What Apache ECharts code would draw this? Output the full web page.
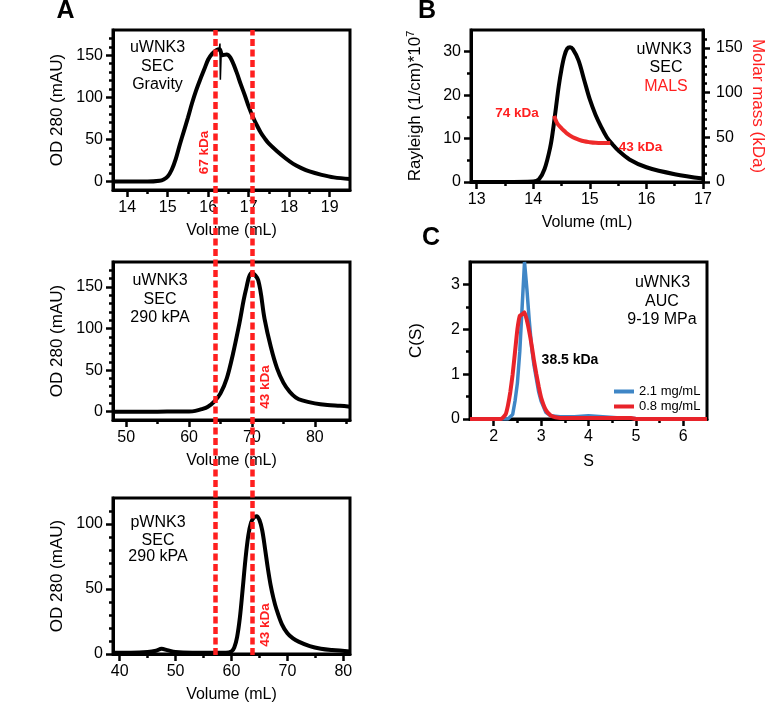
<!DOCTYPE html>
<html>
<head>
<meta charset="UTF-8">
<title>WNK3 SEC / MALS / AUC</title>
<script src="https://cdn.jsdelivr.net/npm/echarts@6.0.0/dist/echarts.min.js"></script>
<style>
  html, body { margin: 0; padding: 0; background: #fff; }
  #chart { width: 775px; height: 708px; }
</style>
</head>
<body>
<div id="chart"></div>
<script>
var FONT = '"Liberation Sans", Arial, Helvetica, sans-serif';
var RED = '#ff1f1f';

// A, top: uWNK3 SEC gravity
var a1Vol = [13.65, 14.0, 14.5, 14.8, 14.9, 15.0, 15.1, 15.2, 15.3, 15.4, 15.5, 15.6, 15.7, 15.8, 15.9, 16.0, 16.1, 16.2, 16.28, 16.35, 16.45, 16.55, 16.7, 16.8, 16.9, 17.0, 17.1, 17.2, 17.3, 17.4, 17.5, 17.7, 17.9, 18.1, 18.3, 18.5, 18.8, 19.1, 19.5];
var a1Od  = [0, 0, 0, 1, 2.5, 6, 14, 27, 44, 60, 76, 93, 108, 121, 133, 145, 152, 156, 157, 150, 151, 147, 130, 116, 103, 89, 77, 67, 58, 51, 45, 36, 28, 21, 16, 12, 8, 5, 3];
var a1SpikeVol = [16.27, 16.29, 16.3, 16.32];
var a1SpikeOd  = [156, 164, 121, 151];
var a1XTicks = [14, 15, 16, 17, 18, 19];
var aYTicks  = [0, 50, 100, 150];

// A, middle: uWNK3 SEC 290 kPa
var a2Vol = [47.9, 50, 55, 58, 60, 61, 62, 63, 64, 65, 66, 67, 68, 69, 70, 71, 72, 73, 74, 75, 76, 77, 78, 80, 82, 84, 85.6];
var a2Od  = [0, 0, 0, 0.2, 0.3, 1, 3, 6, 12, 22, 40, 70, 106, 145, 167, 158, 112, 78, 52, 35, 24, 17, 13.5, 10, 8, 7, 6];
var a2XTicks = [50, 60, 70, 80];

// A, bottom: pWNK3 SEC 290 kPa
var a3Vol = [38.8, 42, 45, 46.5, 47.5, 48.5, 50, 53, 56, 59, 60, 60.5, 61, 61.5, 62, 62.5, 63, 63.5, 64, 64.5, 65, 65.5, 66, 66.5, 67, 67.5, 68, 69, 70, 71, 72, 74, 76, 78, 81.2];
var a3Od  = [1, 1, 1.5, 2.5, 4, 3, 1.5, 1, 1, 1, 2, 5, 13, 28, 50, 73, 91, 101, 105, 106, 103, 95, 81, 66, 53, 43, 35, 23, 16, 12, 9.5, 6, 4, 3, 2];
var a3XTicks = [40, 50, 60, 70, 80];
var a3YTicks = [0, 50, 100];

// marker volumes (read on the top panel's axis, lines run through all three)
var markerVol = [16.17, 17.09];

// B: SEC-MALS
var bVol = [12.9, 13.5, 14.0, 14.1, 14.2, 14.3, 14.35, 14.4, 14.45, 14.5, 14.55, 14.6, 14.65, 14.7, 14.8, 14.9, 15.0, 15.1, 15.2, 15.3, 15.4, 15.5, 15.7, 16.0, 16.5, 17.0];
var bRay = [0, 0, 0.1, 0.6, 3, 8, 12, 17, 22, 26, 29, 30.7, 31, 30.6, 28, 23.5, 19, 15.5, 12.7, 10.3, 8.7, 7.3, 5.2, 3.4, 1.8, 0.8];
var bMalsVol = [14.37, 14.42, 14.5, 14.55, 14.6, 14.7, 14.8, 14.9, 15.0, 15.1, 15.2, 15.36];
var bMass    = [74, 66, 60, 57, 54, 50, 47.5, 45.5, 44.5, 43.8, 43.5, 43.5];
var bXTicks = [13, 14, 15, 16, 17];
var bYTicks = [0, 10, 20, 30];
var bY2Ticks = [0, 50, 100, 150];

// C: AUC c(s)
var cBlueS = [1.5, 2.3, 2.4, 2.45, 2.5, 2.55, 2.6, 2.65, 2.7, 2.75, 2.8, 2.85, 2.9, 2.95, 3.0, 3.1, 3.2, 3.4, 3.7, 4.0, 4.3, 4.6, 5.0, 6.5];
var cBlue  = [0, 0, 0.1, 0.4, 0.8, 1.5, 2.5, 3.5, 2.9, 2.2, 1.6, 1.2, 0.9, 0.6, 0.4, 0.15, 0.07, 0.05, 0.05, 0.07, 0.05, 0.03, 0.01, 0];
var cRedS  = [1.5, 2.15, 2.25, 2.3, 2.35, 2.4, 2.45, 2.5, 2.55, 2.6, 2.65, 2.7, 2.75, 2.8, 2.85, 2.9, 2.95, 3.0, 3.1, 3.2, 3.3, 3.5, 4.0, 4.5, 4.9, 5.0, 6.5];
var cRed   = [0, 0, 0.1, 0.3, 0.6, 1.0, 1.5, 2.0, 2.3, 2.33, 2.38, 2.2, 1.95, 1.65, 1.3, 1.0, 0.72, 0.48, 0.2, 0.08, 0.04, 0.02, 0.02, 0.02, 0.02, 0, 0];
var cXTicks = [2, 3, 4, 5, 6];
var cYTicks = [0, 1, 2, 3];

function zip(xs, ys) { return xs.map(function (x, i) { return [x, ys[i]]; }); }
function minorOf(a, b, s, major) {
  var out = [];
  for (var v = Math.ceil(a / s - 1e-9) * s; v < b - 1e-9; v += s) {
    var r = +v.toFixed(6);
    if (r > a && major.indexOf(r) < 0) out.push(r);
  }
  return out;
}

var xAxes = [], yAxes = [];
// main axis (line, major ticks, labels) + a bare axis carrying the minor ticks
function addAxis(list, o) {
  var tickStyle = { color: '#000', width: 2.5 };
  list.push({
    type: 'value', gridIndex: o.grid, min: o.min, max: o.max, position: o.pos,
    splitLine: { show: false },
    axisLine: { show: true, onZero: false, lineStyle: { color: '#000', width: 3 } },
    axisTick: { show: true, customValues: o.major, length: 7, lineStyle: tickStyle },
    axisLabel: { customValues: o.major, fontSize: 16, color: '#000', fontFamily: FONT, margin: o.margin || 10 },
    name: o.name || '', nameLocation: 'middle', nameGap: o.gap, nameRotate: o.rotate,
    nameTextStyle: Object.assign({ fontSize: o.nameSize || 17, color: '#000', fontFamily: FONT }, o.nameStyle || {})
  });
  var idx = list.length - 1;
  list.push({
    type: 'value', gridIndex: o.grid, min: o.min, max: o.max, position: o.pos,
    splitLine: { show: false },
    axisLine: { show: false, onZero: false },
    axisTick: { show: true, customValues: minorOf(o.min, o.max, o.step, o.major), length: 4, lineStyle: tickStyle },
    axisLabel: { show: false }
  });
  return idx;
}

var grids = [
  { left: 113, top: 30, width: 237, height: 160 },
  { left: 113, top: 262, width: 237, height: 158 },
  { left: 113, top: 498, width: 237, height: 156 },
  { left: 471, top: 30, width: 232, height: 152 },
  { left: 470, top: 262, width: 237, height: 157 }
].map(function (g) {
  return Object.assign(g, { show: true, borderColor: '#000', borderWidth: 3, backgroundColor: 'transparent', outerBoundsMode: 'none' });
});
// overlay for the marker lines that cross all three A panels
grids.push({ left: 113, top: 30, width: 237, height: 625, show: false, outerBoundsMode: 'none' });

var volName = 'Volume (mL)';
var xA1 = addAxis(xAxes, { grid: 0, pos: 'bottom', min: 13.65, max: 19.5, major: a1XTicks, step: 0.5, name: volName, gap: 33, nameSize: 16 });
var yA1 = addAxis(yAxes, { grid: 0, pos: 'left', min: -10, max: 180, major: aYTicks, step: 10, name: 'OD 280 (mAU)', gap: 47 });
var xA2 = addAxis(xAxes, { grid: 1, pos: 'bottom', min: 47.9, max: 85.6, major: a2XTicks, step: 5, name: volName, gap: 33, nameSize: 16 });
var yA2 = addAxis(yAxes, { grid: 1, pos: 'left', min: -10, max: 180, major: aYTicks, step: 10, name: 'OD 280 (mAU)', gap: 47 });
var xA3 = addAxis(xAxes, { grid: 2, pos: 'bottom', min: 38.8, max: 81.2, major: a3XTicks, step: 5, name: volName, gap: 33, nameSize: 16 });
var yA3 = addAxis(yAxes, { grid: 2, pos: 'left', min: 0, max: 120, major: a3YTicks, step: 10, name: 'OD 280 (mAU)', gap: 47 });
var xB = addAxis(xAxes, { grid: 3, pos: 'bottom', min: 12.9, max: 17, major: bXTicks, step: 0.5, name: volName, gap: 33, nameSize: 16 });
var yB = addAxis(yAxes, { grid: 3, pos: 'left', min: 0, max: 35, major: bYTicks, step: 5,
  name: '{n|Rayleigh (1/cm)*10}{sup|7}', gap: 46,
  nameStyle: { rich: { n: { fontSize: 17, fontFamily: FONT, color: '#000' }, sup: { fontSize: 11, fontFamily: FONT, color: '#000', padding: [0, 0, 9, 0] } } } });
var yB2 = addAxis(yAxes, { grid: 3, pos: 'right', min: 0, max: 170, major: bY2Ticks, step: 10, margin: 13,
  name: 'Molar mass (kDa)', gap: 46, rotate: -90, nameStyle: { color: RED } });
var xC = addAxis(xAxes, { grid: 4, pos: 'bottom', min: 1.5, max: 6.5, major: cXTicks, step: 0.5, name: 'S', gap: 35, nameSize: 16 });
var yC = addAxis(yAxes, { grid: 4, pos: 'left', min: 0, max: 3.5, major: cYTicks, step: 0.5, name: 'C(S)', gap: 45 });

xAxes.push({ type: 'value', gridIndex: 5, min: 13.65, max: 19.5, show: false });
yAxes.push({ type: 'value', gridIndex: 5, min: 0, max: 1, show: false });
var xOv = xAxes.length - 1, yOv = yAxes.length - 1;

function curve(data, xi, yi, color, width, smooth, extra) {
  return Object.assign({
    type: 'line', xAxisIndex: xi, yAxisIndex: yi, data: data, symbol: 'none',
    smooth: smooth, lineStyle: { color: color, width: width }, itemStyle: { color: color }, silent: true
  }, extra || {});
}

var series = [
  curve(zip(a1Vol, a1Od), xA1, yA1, '#000', 4, 0.35),
  curve(zip(a1SpikeVol, a1SpikeOd), xA1, yA1, '#000', 1.5, false),
  curve(zip(a2Vol, a2Od), xA2, yA2, '#000', 4, 0.35),
  curve(zip(a3Vol, a3Od), xA3, yA3, '#000', 4, 0.35),
  curve(zip(bVol, bRay), xB, yB, '#000', 4, 0.35),
  curve(zip(bMalsVol, bMass), xB, yB2, '#ee2a2a', 4, 0.3),
  curve(zip(cBlueS, cBlue), xC, yC, '#3f86c6', 3.5, false, { name: '2.1 mg/mL' }),
  curve(zip(cRedS, cRed), xC, yC, '#e8232a', 4, 0.15, { name: '0.8 mg/mL' }),
  {
    type: 'line', xAxisIndex: xOv, yAxisIndex: yOv, data: [[markerVol[0], 0]], symbol: 'none',
    lineStyle: { opacity: 0 }, z: 20, silent: true,
    markLine: {
      silent: true, symbol: ['none', 'none'], label: { show: false }, animation: false,
      lineStyle: { color: RED, width: 4.5, type: [7, 3.5] },
      data: markerVol.map(function (v) { return { xAxis: v }; })
    }
  }
];

function txt(s, x, y, font, fill, rot) {
  return {
    type: 'text', x: x, y: y, rotation: rot || 0, z: 30, silent: true,
    style: { text: s, font: font, fill: fill || '#000', textAlign: 'center', textVerticalAlign: 'middle' }
  };
}
var F16 = '16px ' + FONT, LBL = 'bold 13.5px ' + FONT, BIG = 'bold 25px ' + FONT;
var graphics = [
  txt('A', 65.5, 11, BIG), txt('B', 427, 11, BIG), txt('C', 431, 238, BIG),
  txt('uWNK3', 157.5, 48, F16), txt('SEC', 157.5, 67, F16), txt('Gravity', 157.5, 85, F16),
  txt('uWNK3', 160, 281, F16), txt('SEC', 160, 300, F16), txt('290 kPA', 160, 318, F16),
  txt('pWNK3', 158, 523, F16), txt('SEC', 158, 541, F16), txt('290 kPA', 158, 557, F16),
  txt('uWNK3', 664, 50, F16), txt('SEC', 666, 68, F16), txt('MALS', 666, 87, F16, RED),
  txt('uWNK3', 662.5, 283, F16), txt('AUC', 662, 302, F16), txt('9-19 MPa', 662, 320, F16),
  txt('67 kDa', 204, 152.5, LBL, RED, Math.PI / 2),
  txt('43 kDa', 265, 387, LBL, RED, Math.PI / 2),
  txt('43 kDa', 265, 625, LBL, RED, Math.PI / 2),
  txt('74 kDa', 517, 113, LBL, RED),
  txt('43 kDa', 640.5, 147, LBL, RED),
  txt('38.5 kDa', 570, 360, 'bold 14px ' + FONT, '#000')
];

var chart = echarts.init(document.getElementById('chart'), null, { renderer: 'canvas' });
chart.setOption({
  animation: false,
  backgroundColor: '#fff',
  grid: grids,
  xAxis: xAxes,
  yAxis: yAxes,
  legend: {
    data: ['2.1 mg/mL', '0.8 mg/mL'], orient: 'vertical', left: 609, top: 380,
    itemWidth: 20, itemHeight: 4, itemGap: 2, icon: 'rect', selectedMode: false,
    textStyle: { fontSize: 13, color: '#000', fontFamily: FONT }
  },
  series: series,
  graphic: graphics
});
</script>
</body>
</html>
